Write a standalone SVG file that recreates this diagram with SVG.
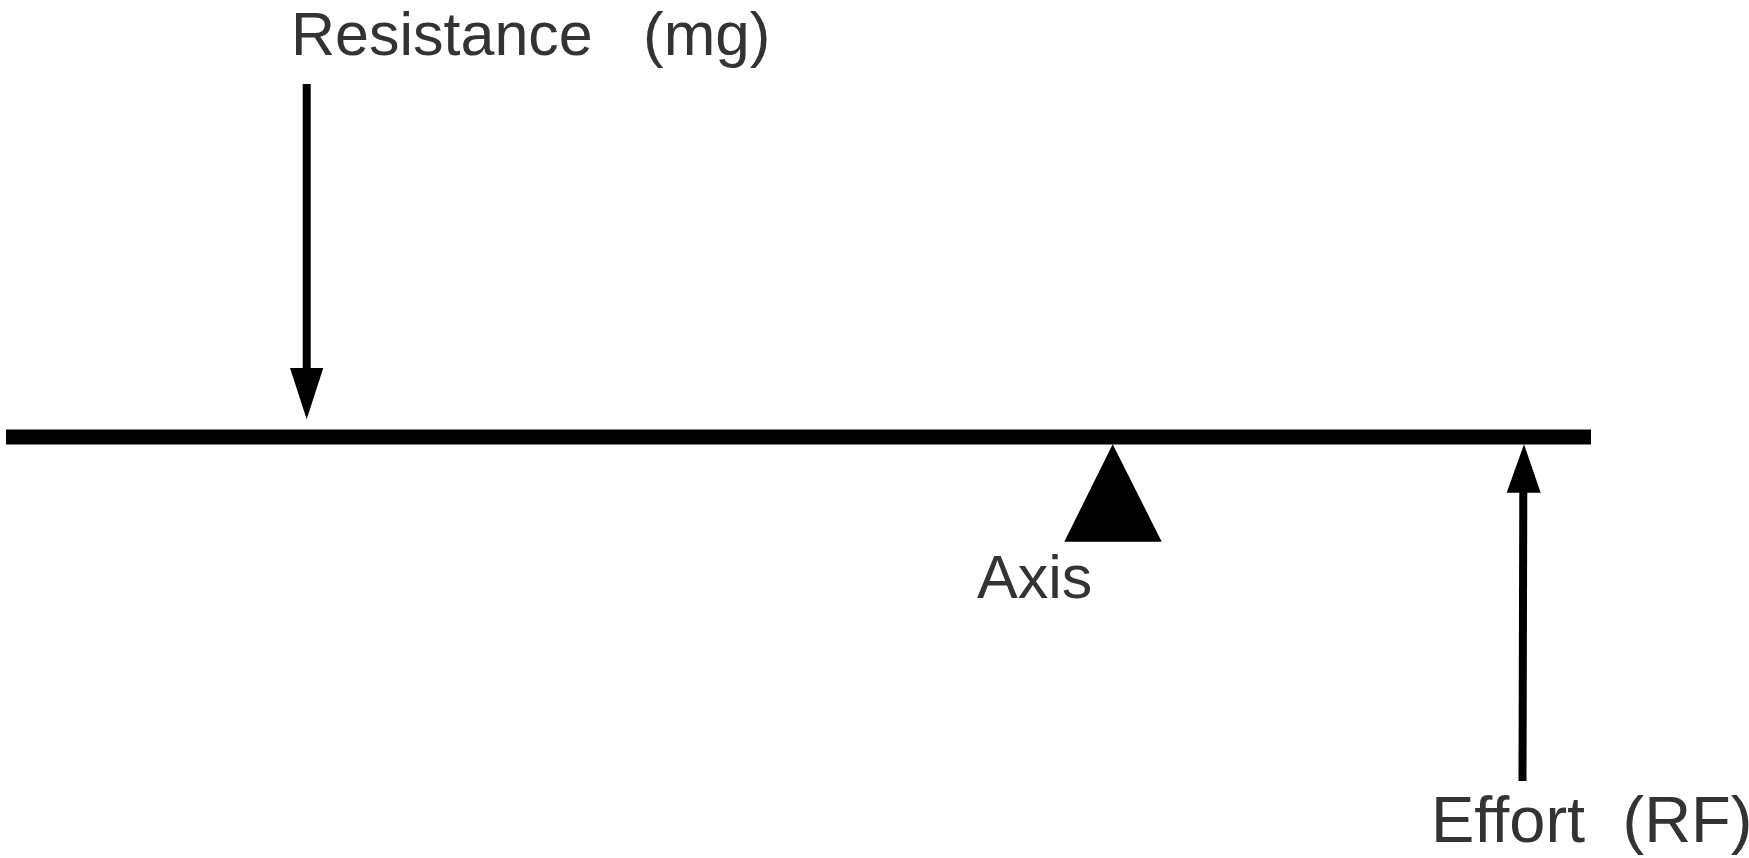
<svg xmlns="http://www.w3.org/2000/svg" width="1749" height="858" viewBox="0 0 1749 858">
<style>
.lbl{font-family:"Liberation Sans",Arial,Helvetica,sans-serif;fill:#333333;}
.shaft{stroke:#000;stroke-width:8;fill:none;}
.head{fill:#000;stroke:none;}
</style>
<rect width="1749" height="858" fill="#ffffff"/>
<g id="beam">
<rect x="6" y="429.5" width="1585" height="15" fill="#000"/>
</g>
<g id="axis">
<polygon points="1112.7,444.3 1064.3,541.7 1161.7,541.7" fill="#000"/>
<text class="lbl" x="977" y="598" font-size="61">Axis</text>
</g>
<g id="resistance">
<text class="lbl" x="291" y="55" font-size="61">Resistance<tspan x="643" font-size="62">(mg)</tspan></text>
</g>
<g id="effort">
<text class="lbl" x="1431" y="841.5" font-size="65">Effort<tspan x="1622.5">(RF)</tspan></text>
</g>
<g id="connectors">
<line class="shaft" x1="306.7" y1="84" x2="306.7" y2="370"/>
<polygon class="head" points="290,368 323.3,368 306.7,419.3"/>
<line class="shaft" x1="1522.5" y1="781" x2="1523.3" y2="491"/>
<polygon class="head" points="1506.7,492.7 1540.7,492.7 1524,444.3"/>
</g>
</svg>
